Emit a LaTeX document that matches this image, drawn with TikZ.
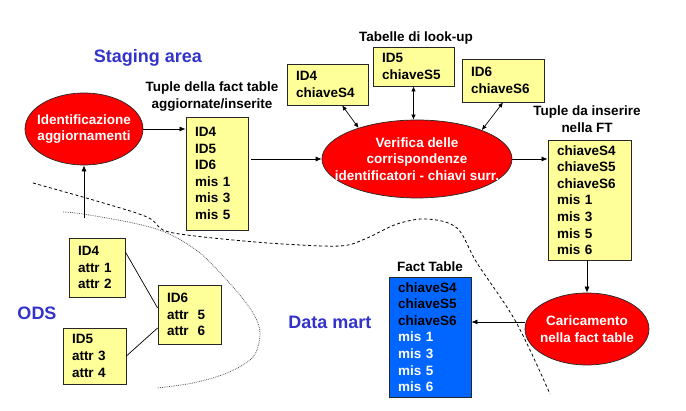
\documentclass[tikz,border=0pt]{standalone}
\usepackage{fontspec}
\setmainfont{Liberation Sans}
\usetikzlibrary{shapes.geometric,arrows.meta,calc}
\definecolor{boxyellow}{HTML}{FFFF99}
\definecolor{ellred}{HTML}{FF0000}
\definecolor{ftblue}{HTML}{0066FF}
\definecolor{areablue}{HTML}{3333CC}
\begin{document}
\begin{tikzpicture}[x=1pt,y=-1pt,
  txt/.style={font=\bfseries\fontsize{13.5}{16.6}\selectfont},
  box/.style={txt, draw=black!85, line width=0.8pt, fill=boxyellow, align=left, inner xsep=9pt, inner ysep=0pt, anchor=center},
  ell/.style={ellipse, draw=black!85, line width=0.7pt, fill=ellred, text=white, inner xsep=-30pt, inner ysep=-8pt, align=center, font=\bfseries\fontsize{13.5}{16.8}\selectfont},
  lbl/.style={txt, align=center},
  area/.style={font=\bfseries\fontsize{18}{20}\selectfont, text=areablue},
  arr/.style={-{Latex[length=6pt,width=5pt]}, line width=0.7pt},
  darr/.style={{Latex[length=5pt,width=4.5pt]}-{Latex[length=5pt,width=4.5pt]}, line width=0.7pt},
  dashcurve/.style={line width=0.8pt, dash pattern=on 3pt off 2.5pt},
  dotcurve/.style={line width=0.8pt, black!65, densely dotted},
]
\useasboundingbox (0,0) rectangle (686,411);

% boundaries
\draw[dashcurve] plot[smooth, tension=0.55] coordinates {(33,183) (100,202) (147,217) (163,230) (187,235) (233,240) (283,244) (340,246) (365,239) (397,224) (427,219) (457,228) (477,263) (516,322) (550,394)};
\draw[dotcurve] plot[smooth, tension=0.55] coordinates {(63,212) (83,214) (133,223) (167,233) (200,253) (233,287) (253,313) (260,333) (253,357) (227,373) (193,383) (157,388)};

% area labels
\node[area] (staging) at (148,58) {Staging area};
\node[area] (ods) at (37,313) {ODS};
\node[area] (datamart) at (330,322) {Data mart};

% ellipses
\node[ell, minimum width=118pt, minimum height=72pt] (ident) at (84,129) {Identificazione\\aggiornamenti};
\node[ell, minimum width=190pt, minimum height=78pt] (verif) at (417,159) {Verifica delle\\corrispondenze\\identificatori - chiavi surr.};
\node[ell, minimum width=124pt, minimum height=72pt] (carica) at (587,329) {Caricamento\\nella fact table};

% titles
\node[lbl] (t1) at (212,96.5) {Tuple della fact table\\aggiornate/inserite};
\node[lbl] (t2) at (416,38) {Tabelle di look-up};
\node[lbl] (t3) at (587,119) {Tuple da inserire\\nella FT};
\node[lbl] (t4) at (430,267) {Fact Table};

% boxes
\node[box, text width=44pt, minimum height=113pt] (box1) at (217,173.5) {ID4\\ID5\\ID6\\mis 1\\mis 3\\mis 5};
\node[box, text width=63pt, minimum height=41pt] (lk4) at (327.5,84.5) {ID4\\chiaveS4};
\node[box, text width=63pt, minimum height=39pt] (lk5) at (413.5,66.5) {ID5\\chiaveS5};
\node[box, text width=64pt, minimum height=43pt] (lk6) at (503,80.5) {ID6\\chiaveS6};
\node[box, text width=65pt, minimum height=120pt] (ftbox) at (589.5,200) {chiaveS4\\chiaveS5\\chiaveS6\\mis 1\\mis 3\\mis 5\\mis 6};
\node[box, fill=ftblue, text width=64pt, minimum height=120pt] (fact) at (430,337) {chiaveS4\\chiaveS5\\chiaveS6\\\textcolor{white}{mis 1}\\\textcolor{white}{mis 3}\\\textcolor{white}{mis 5}\\\textcolor{white}{mis 6}};
\node[box, text width=38pt, minimum height=59pt] (ods4) at (97,267.5) {ID4\\attr 1\\attr 2};
\node[box, text width=45pt, minimum height=59pt] (ods6) at (189.5,314.5) {ID6\\attr~ 5\\attr~ 6};
\node[box, text width=45pt, minimum height=56pt] (ods5) at (94.5,356) {ID5\\attr 3\\attr 4};

% connectors
\coordinate (odsstart) at (84,218);
\draw[arr] (odsstart) -- (ident.south);
\draw[arr] (ident.east) -- (ident.east -| box1.west);
\draw[arr, shorten <=3pt] (box1.east |- verif.west) -- (verif.west);
\draw[arr] (verif.east) -- (verif.east -| ftbox.west);
\draw[arr] (carica.north |- ftbox.south) -- (carica.north);
\draw[arr] ([yshift=7pt]carica.west) -- ([yshift=7pt]carica.west -| fact.east);
\draw[darr] (lk4.-55) -- (verif.152);
\draw[darr] (lk5.south) -- (lk5.south |- verif.north);
\draw[darr] (lk6.south) -- (verif.24);
\draw[line width=0.7pt] ([yshift=15.5pt]ods4.east) -- ([yshift=6.5pt]ods6.west);
\draw[line width=0.7pt] (ods5.east) -- ([yshift=-13.5pt]ods6.west);
\end{tikzpicture}
\end{document}
